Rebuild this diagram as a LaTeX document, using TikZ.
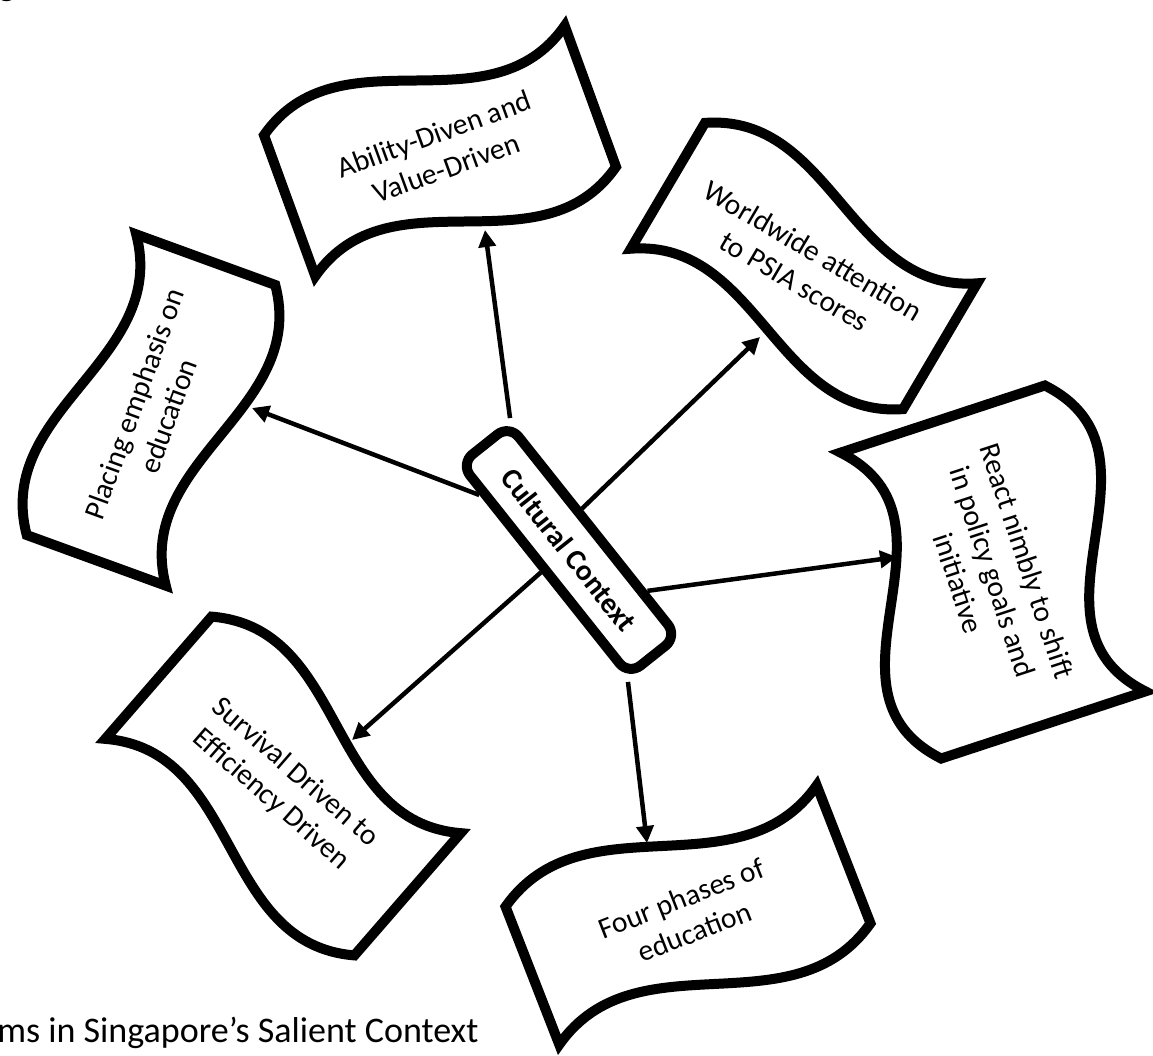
\documentclass[tikz,border=0pt]{standalone}
\usepackage{fontspec}
\setmainfont{Carlito}
\usetikzlibrary{arrows.meta}

%% wave outline: #1 = length, #2 = straight side
\tikzset{
  pics/wave/.style n args={2}{code={
    \draw[wavedecorate] (-#1/2,-#2/2)
      .. controls +(#1/3,-#2/2) and +(-#1/3,#2/2) .. (#1/2,-#2/2)
      -- (#1/2,#2/2)
      .. controls +(-#1/3,#2/2) and +(#1/3,-#2/2) .. (-#1/2,#2/2) -- cycle;
  }}
}

\begin{document}
\begin{tikzpicture}
[x=0.02cm,y=-0.02cm,
  wavedecorate/.style={draw,fill=white,line width=0.2cm,line join=miter},
  textdecorate/.style={align=center,inner sep=0pt,font=\fontsize{16.8}{20.5}\selectfont},
  hubdecorate/.style={draw,fill=white,line width=0.2cm,rounded corners=0.3cm,
    minimum width=5.4cm,minimum height=1.24cm,inner sep=0pt,
    font=\bfseries\fontsize{16.8}{20.5}\selectfont},
  arrowdecorate/.style={-{Triangle[length=0.34cm,width=0.34cm]},line width=0.09cm}]
\useasboundingbox (0,0) rectangle (1153,1055);
%% wave shapes and their texts
\foreach \nodename/\x/\y/\angle/\w/\h/\label in {
  ability/440/151/20/320/150/{Ability-Diven and\\Value-Driven},
  placing/151/410/70/320/148/{Placing emphasis on\\education},
  worldwide/804/266/-30.5/316/146/{Worldwide attention\\to PSIA scores},
  react/993/572/-71.8/322/215/{React nimbly to shift\\in policy goals and\\initiative},
  phases/688/915/21.3/334/148/{Four phases of\\education},
  survival/283/786/-41/330/162/{Survival Driven to\\Efficiency Driven}}
{
  \pic[rotate=\angle] at (\x,\y) {wave={\w}{\h}};
  \node[textdecorate,rotate=\angle] (\nodename) at (\x,\y) {\label};
}
%% central box
\node[hubdecorate,rotate=-51.5] (cc) at (569,550) {Cultural Context};
%% arrow ends
\foreach \nodename/\x/\y in {ability/485/230, placing/252/408, worldwide/760/337,
  react/897/557, phases/647/843, survival/352/740}
  \coordinate (\nodename-in) at (\x,\y);
%% arrows
\foreach \startanchor/\endnode in {north west/ability, 200/placing, 124/worldwide,
  24/react, south east/phases, south/survival}
  \draw[arrowdecorate] (cc.\startanchor) -- (\endnode-in);
%% caption lines
\node[anchor=base west,inner sep=0pt,font=\fontsize{20.5}{24}\selectfont] (fragment)
  at (-2,-5) {g};
\node[anchor=base west,inner sep=0pt,font=\fontsize{20.5}{24}\selectfont] (caption)
  at (-3,1042) {ms in Singapore’s Salient Context};
\end{tikzpicture}
\end{document}
